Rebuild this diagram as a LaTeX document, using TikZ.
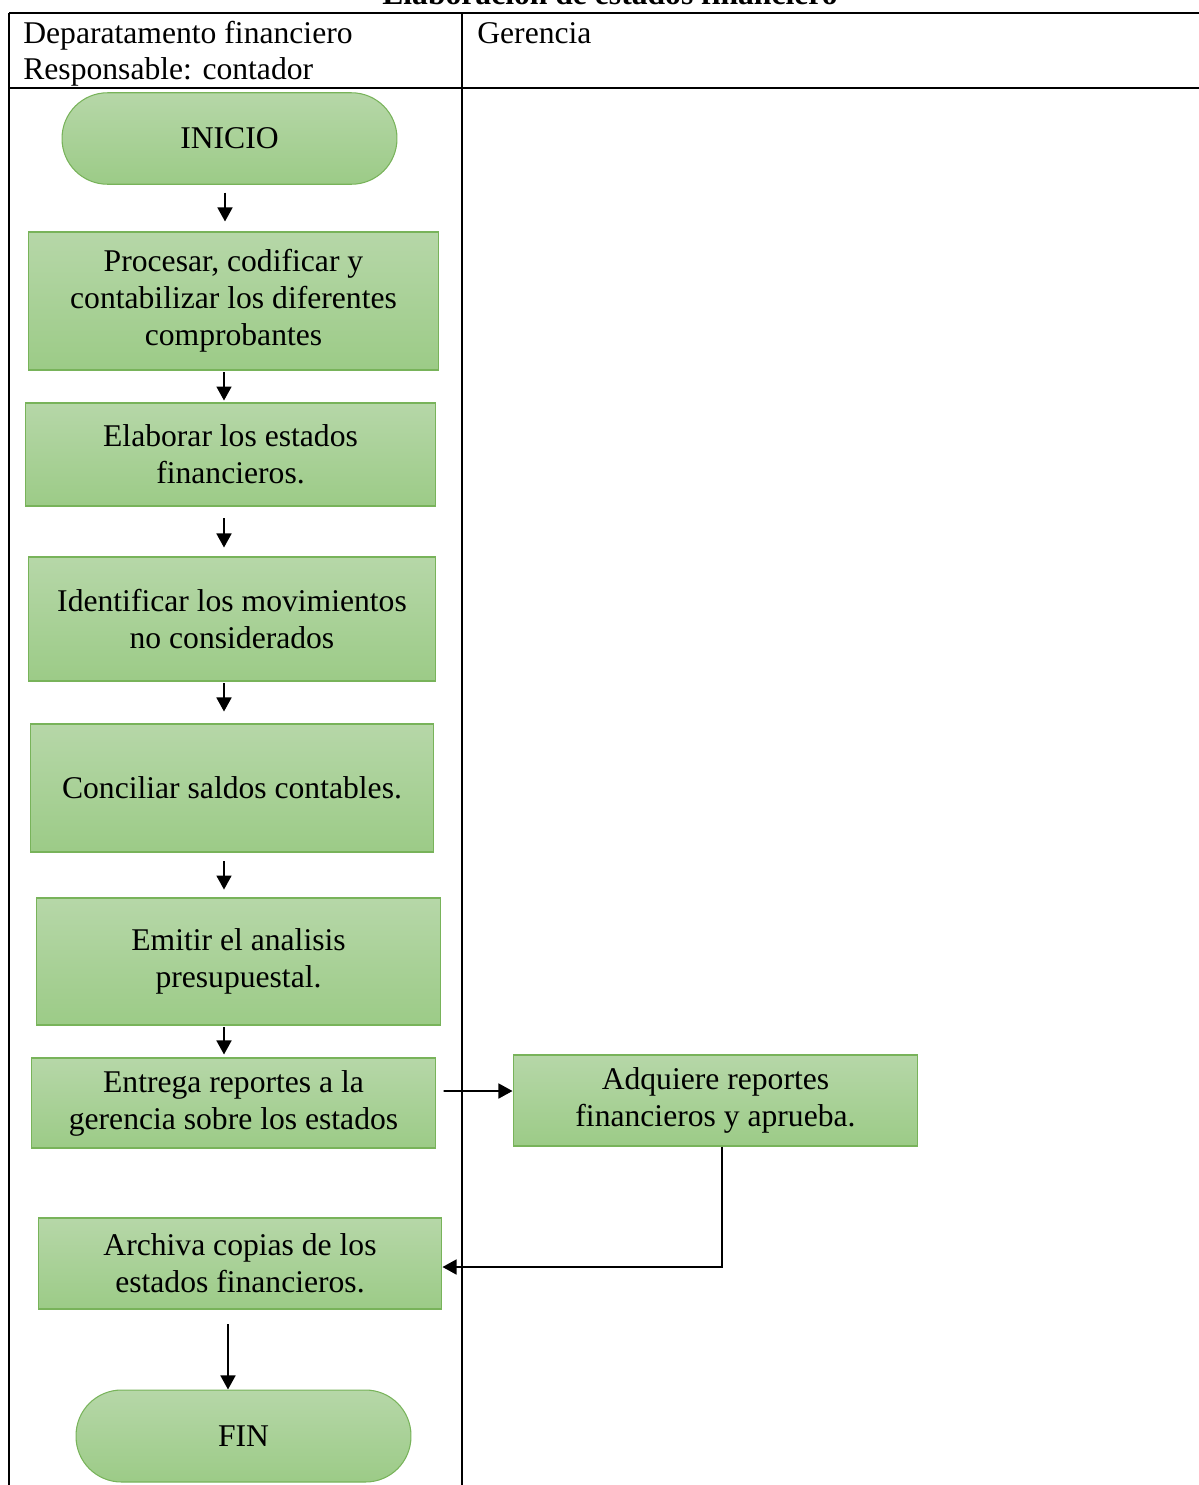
\documentclass[tikz,border=0pt]{standalone}
\usepackage{fontspec}
\setmainfont{Liberation Serif}
\usetikzlibrary{arrows.meta,positioning}
\definecolor{stepgreentop}{HTML}{B6D7A8}
\definecolor{stepgreenbot}{HTML}{9CCB87}
\definecolor{stepborder}{HTML}{78B35A}

\begin{document}
\begin{tikzpicture}[
    x=0.02cm,
    y=-0.02cm,
    font=\fontsize{18}{21}\selectfont,
    >={Triangle[length=8pt,width=8.5pt]},
    lane/.style={
        line width=1.1pt
    },
    stepbox/.style={
        draw=stepborder,
        top color=stepgreentop,
        bottom color=stepgreenbot,
        line width=0.6pt,
        align=center,
        inner sep=2pt,
        minimum width=8.1cm,
        minimum height=1.8cm
    },
    terminal/.style={
        stepbox,
        rounded corners=0.91cm,
        minimum width=6.7cm,
        minimum height=1.83cm
    },
    flow/.style={
        ->,
        line width=1.1pt
    }
]
\useasboundingbox (0,0) rectangle (1198,1485);

% Title and swimlane frame
\node[anchor=base, font=\fontsize{18}{21}\selectfont\bfseries] (title) at (610,4)
    {Elaboración de estados financiero};
\draw[lane] (9,13) -- (1210,13);
\draw[lane] (9,88) -- (1210,88);
\draw[lane] (9,13) -- (9,1495);
\draw[lane] (462,13) -- (462,1495);

% Lane headers
\node[anchor=base west, inner sep=0pt] (dept) at (23,43) {Deparatamento financiero};
\node[anchor=base west, inner sep=0pt] (resp) at (23,79) {Responsable: contador};
\node[anchor=base west, inner sep=0pt] (ger) at (477,43) {Gerencia};

% Steps of the accounting department
\node[terminal] (inicio) at (229.5,138.5) {INICIO};
\node[stepbox, minimum width=8.22cm, minimum height=2.76cm] (proc) at (233.5,301)
    {Procesar, codificar y\\contabilizar los diferentes\\comprobantes};
\node[stepbox, minimum width=8.22cm, minimum height=2.06cm] (elab) at (230.5,454.5)
    {Elaborar los estados\\financieros.};
\node[stepbox, minimum width=8.16cm, minimum height=2.48cm] (ident) at (232,619)
    {Identificar los movimientos\\no considerados};
\node[stepbox, minimum width=8.08cm, minimum height=2.56cm] (conc) at (232,788)
    {Conciliar saldos contables.};
\node[stepbox, minimum height=2.54cm] (emit) at (238.5,961.5)
    {Emitir el analisis\\presupuestal.};
\node[stepbox] (entrega) at (233.5,1103)
    {Entrega reportes a la\\gerencia sobre los estados};
\node[stepbox, minimum width=8.08cm, minimum height=1.82cm] (arch) at (240,1263.5)
    {Archiva copias de los\\estados financieros.};
\node[terminal, minimum height=1.84cm] (fin) at (243.5,1436) {FIN};

% Step of the management
\node[stepbox, minimum height=1.82cm] (adq) at (715.5,1100.5)
    {Adquiere reportes\\financieros y aprueba.};

% Downward flow in the first lane
\foreach \from/\to/\x/\s/\e in {inicio/proc/225/4.5/5.7, proc/elab/224/1.1/1.1,
        elab/ident/224/6.8/5.1, ident/conc/224/1.1/6.8, conc/emit/224/5.1/4.5,
        emit/entrega/224/1.1/1.7, arch/fin/228/8.5/0} {
    \draw[flow, shorten <=\s pt, shorten >=\e pt]
        (\from.south -| \x,0) -- (\to.north -| \x,0);
}

% Hand-over to management and back
\draw[flow, shorten <=4pt] ([yshift=0.24cm]entrega.east) -- ([yshift=0.19cm]adq.west);
\draw[flow] (adq.south -| 722,0) |- ([yshift=-0.07cm]arch.east);

\end{tikzpicture}
\end{document}
